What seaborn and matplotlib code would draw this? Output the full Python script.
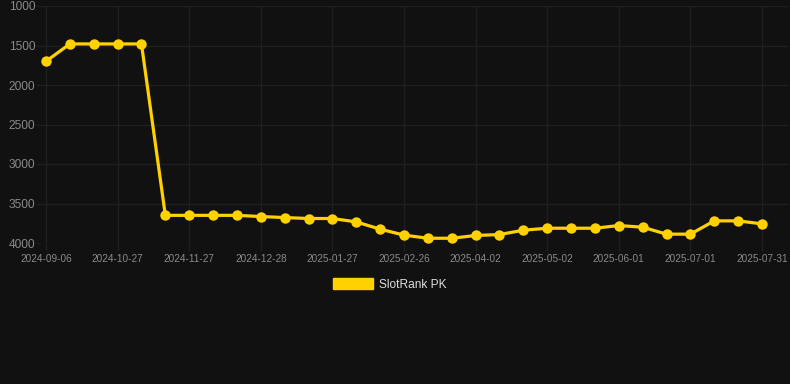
import matplotlib
matplotlib.use("Agg")
import matplotlib.pyplot as plt
import seaborn as sns
import pandas as pd
from matplotlib.patches import Patch

dates = [
    "2024-09-06", "2024-09-23", "2024-10-10", "2024-10-27", "2024-11-06",
    "2024-11-17", "2024-11-27", "2024-12-07", "2024-12-18", "2024-12-28",
    "2025-01-07", "2025-01-17", "2025-01-27", "2025-02-06", "2025-02-16",
    "2025-02-26", "2025-03-10", "2025-03-21", "2025-04-02", "2025-04-12",
    "2025-04-22", "2025-05-02", "2025-05-12", "2025-05-22", "2025-06-01",
    "2025-06-11", "2025-06-21", "2025-07-01", "2025-07-11", "2025-07-21",
    "2025-07-31",
]
ranks = [
    1700, 1480, 1480, 1480, 1480,
    3650, 3650, 3650, 3650, 3665,
    3678, 3690, 3690, 3733, 3825,
    3900, 3940, 3940, 3905, 3893,
    3838, 3813, 3813, 3813, 3779,
    3800, 3888, 3888, 3720, 3720,
    3758,
]
series_name = "SlotRank PK"
y_ticks = [1000, 1500, 2000, 2500, 3000, 3500, 4000]

BG = "#111111"
LINE = "#FFD100"
GRID = "#1f1f1f"
TICK = "#8a8a8a"

sns.set_theme(style="dark")
plt.rcParams["font.family"] = ["Liberation Sans", "DejaVu Sans"]

df = pd.DataFrame({"idx": range(len(dates)), "date": dates, "rank": ranks})

fig = plt.figure(figsize=(7.9, 3.84), dpi=100, facecolor=BG)
ax = fig.add_axes([40 / 790, 1 - 243 / 384, 748 / 790, 237 / 384])
ax.set_facecolor(BG)

sns.lineplot(data=df, x="idx", y="rank", ax=ax, color=LINE, linewidth=2.3,
             marker="o", markersize=7.5, markeredgewidth=0, markerfacecolor=LINE,
             legend=False, zorder=3)

step = 23.87
ax.set_xlim(-6 / step, 30 + 26 / step)
ax.set_ylim(4000, 1000)

ax.set_xticks(list(range(0, len(dates), 3)))
ax.set_xticklabels([dates[i] for i in range(0, len(dates), 3)])
ax.set_yticks(y_ticks)
ax.set_yticklabels([str(v) for v in y_ticks])

ax.grid(True, color=GRID, linewidth=1)
for s in ax.spines.values():
    s.set_visible(False)
ax.tick_params(axis="x", colors=GRID, labelcolor=TICK, labelsize=7.2, length=6, width=1, pad=2, bottom=True)
ax.tick_params(axis="y", colors=GRID, labelcolor=TICK, labelsize=8.6, length=3, width=1, pad=0.5, left=True)
ax.set_xlabel("")
ax.set_ylabel("")

handle = Patch(facecolor=LINE, edgecolor=LINE, label=series_name)
leg = fig.legend(handles=[handle], loc="center", bbox_to_anchor=(0.5 - 5 / 790, 1 - 284.5 / 384),
                 frameon=False, fontsize=8.6, handlelength=3.33, handleheight=1.0,
                 handletextpad=0.5, borderpad=0)
for t in leg.get_texts():
    t.set_color("#dddddd")

fig.savefig("out.png", dpi=100, facecolor=BG)
